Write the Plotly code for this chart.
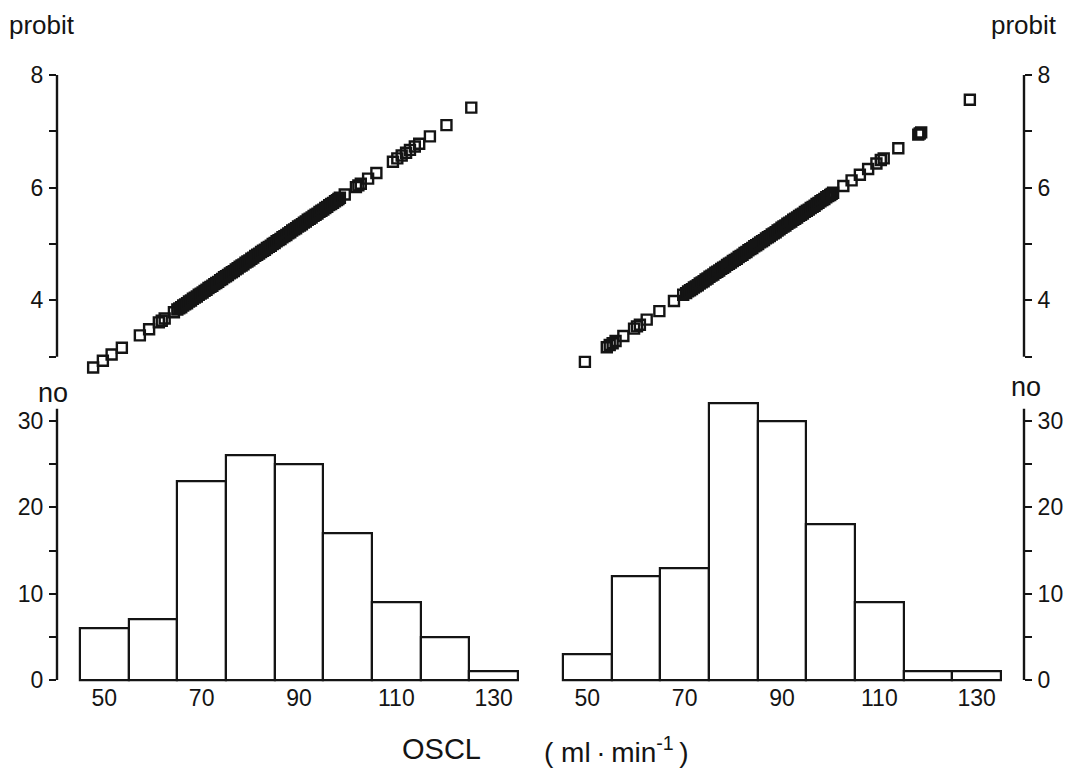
import plotly.graph_objects as go

# ---------------- data ----------------
bin_centers = [50, 60, 70, 80, 90, 100, 110, 120, 130]
counts_left = [6, 7, 23, 26, 25, 17, 9, 5, 1]
counts_right = [3, 12, 13, 32, 30, 18, 9, 1, 1]

oscl_left = [47.7, 49.7, 51.5, 53.6, 57.3, 59.2, 61.2, 61.8, 62.4, 64.3,
             65.0, 65.4, 65.8, 66.2, 66.6, 67.0, 67.4, 67.8, 68.2, 68.6,
             69.0, 69.4, 69.8, 70.2, 70.6, 71.0, 71.4, 71.8, 72.2, 72.6,
             73.0, 73.4, 73.8, 74.2, 74.6, 75.0, 75.4, 75.8, 76.2, 76.6,
             77.0, 77.4, 77.8, 78.2, 78.6, 79.0, 79.4, 79.8, 80.2, 80.6,
             81.0, 81.4, 81.8, 82.2, 82.6, 83.0, 83.4, 83.8, 84.2, 84.6,
             85.0, 85.4, 85.8, 86.2, 86.6, 87.0, 87.4, 87.8, 88.2, 88.6,
             89.0, 89.4, 89.8, 90.2, 90.6, 91.0, 91.4, 91.8, 92.2, 92.6,
             93.0, 93.4, 93.8, 94.2, 94.6, 95.0, 95.4, 95.8, 96.2, 96.6,
             97.0, 97.4, 97.8, 98.1, 98.4,
             99.4, 101.7, 102.2, 102.7, 104.2, 105.9, 109.3, 110.2,
             111.1, 112.0, 112.8, 113.8, 114.7, 116.9, 120.3, 125.4]
probit_left = [2.81, 2.93, 3.04, 3.16, 3.38, 3.49, 3.61, 3.64, 3.68, 3.79,
               3.84, 3.86, 3.88, 3.91, 3.93, 3.95, 3.98, 4.00, 4.03, 4.05,
               4.07, 4.10, 4.12, 4.14, 4.17, 4.19, 4.22, 4.24, 4.26, 4.29,
               4.31, 4.33, 4.36, 4.38, 4.41, 4.43, 4.45, 4.48, 4.50, 4.52,
               4.55, 4.57, 4.60, 4.62, 4.64, 4.67, 4.69, 4.71, 4.74, 4.76,
               4.79, 4.81, 4.83, 4.86, 4.88, 4.90, 4.93, 4.95, 4.97, 5.00,
               5.02, 5.05, 5.07, 5.09, 5.12, 5.14, 5.16, 5.19, 5.21, 5.24,
               5.26, 5.28, 5.31, 5.33, 5.35, 5.38, 5.40, 5.43, 5.45, 5.47,
               5.50, 5.52, 5.54, 5.57, 5.59, 5.61, 5.64, 5.66, 5.69, 5.71,
               5.73, 5.76, 5.78, 5.80, 5.82,
               5.88, 6.01, 6.04, 6.07, 6.16, 6.26, 6.46, 6.52,
               6.57, 6.62, 6.67, 6.73, 6.78, 6.91, 7.11, 7.42]

oscl_right = [49.5, 54.0, 54.6, 55.2, 55.8, 57.4, 59.6, 60.2, 60.8, 62.2,
              64.8, 67.8, 69.7,
              70.3, 70.7, 71.1, 71.5, 71.9, 72.3, 72.7, 73.1, 73.5, 73.9,
              74.3, 74.7, 75.1, 75.5, 75.9, 76.3, 76.7, 77.1, 77.5, 77.9,
              78.3, 78.7, 79.1, 79.5, 79.9, 80.3, 80.7, 81.1, 81.5, 81.9,
              82.3, 82.7, 83.1, 83.5, 83.9, 84.3, 84.7, 85.1, 85.5, 85.9,
              86.3, 86.7, 87.1, 87.5, 87.9, 88.3, 88.7, 89.1, 89.5, 89.9,
              90.3, 90.7, 91.1, 91.5, 91.9, 92.3, 92.7, 93.1, 93.5, 93.9,
              94.3, 94.7, 95.1, 95.5, 95.9, 96.3, 96.7, 97.1, 97.5, 97.9,
              98.3, 98.7, 99.1, 99.5, 99.9, 100.2, 100.5,
              102.6, 104.3, 106.0, 107.7, 109.4, 110.3, 110.9, 113.9,
              118.0, 118.3, 118.6, 128.6]
probit_right = [2.91, 3.17, 3.21, 3.24, 3.28, 3.37, 3.50, 3.54, 3.57, 3.66,
                3.81, 3.99, 4.10,
                4.13, 4.16, 4.18, 4.20, 4.23, 4.25, 4.27, 4.30, 4.32, 4.34,
                4.37, 4.39, 4.42, 4.44, 4.46, 4.49, 4.51, 4.53, 4.56, 4.58,
                4.60, 4.63, 4.65, 4.67, 4.70, 4.72, 4.74, 4.77, 4.79, 4.81,
                4.84, 4.86, 4.89, 4.91, 4.93, 4.96, 4.98, 5.00, 5.03, 5.05,
                5.07, 5.10, 5.12, 5.14, 5.17, 5.19, 5.21, 5.24, 5.26, 5.29,
                5.31, 5.33, 5.36, 5.38, 5.40, 5.43, 5.45, 5.47, 5.50, 5.52,
                5.54, 5.57, 5.59, 5.61, 5.64, 5.66, 5.68, 5.71, 5.73, 5.76,
                5.78, 5.80, 5.83, 5.85, 5.87, 5.89, 5.91,
                6.03, 6.13, 6.23, 6.33, 6.43, 6.49, 6.52, 6.70,
                6.94, 6.96, 6.98, 7.56]

x_ticks = [50, 70, 90, 110, 130]
probit_ticks = [4, 6, 8]
probit_minor = [3, 5, 7]
count_ticks = [0, 10, 20, 30]
count_minor = [5, 15, 25]

# ---------------- layout helpers (pixel placement) ----------------
W, H = 1067, 768
INK = "#141414"
FONT = "Liberation Sans, Arial, Helvetica, sans-serif"


def lin(v1, p1, v2, p2, p):
    return v1 + (p - p1) * (v2 - v1) / (p2 - p1)


# x mapping (data -> px)
AXL, AXR = 57, 1024
xl_range = [lin(45, 80, 135, 518, AXL), lin(45, 80, 135, 518, 522)]
xr_range = [lin(45, 563, 135, 1001, 555), lin(45, 563, 135, 1001, AXR)]
xl_dom = [AXL / W, 522 / W]
xr_dom = [555 / W, AXR / W]

# y mapping
top_px = (60, 382)
bot_px = (402, 692)
yt_range = [lin(8, 76, 3, 362, top_px[1]), lin(8, 76, 3, 362, top_px[0])]
yb_range = [lin(0, 690, 30, 427, bot_px[1]), lin(0, 690, 30, 427, bot_px[0])]
yt_dom = [1 - top_px[1] / H, 1 - top_px[0] / H]
yb_dom = [1 - bot_px[1] / H, 1 - bot_px[0] / H]

fig = go.Figure()

marker_sq = dict(symbol="square-open", size=10, color=INK, line=dict(width=2.4, color=INK))
fig.add_trace(go.Scatter(x=oscl_left, y=probit_left, mode="markers", marker=marker_sq,
                         xaxis="x", yaxis="y", showlegend=False, hoverinfo="x+y"))
fig.add_trace(go.Scatter(x=oscl_right, y=probit_right, mode="markers", marker=marker_sq,
                         xaxis="x2", yaxis="y2", showlegend=False, hoverinfo="x+y"))

bar_style = dict(color="white", line=dict(color=INK, width=2.2))
fig.add_trace(go.Bar(x=bin_centers, y=counts_left, width=10, marker=bar_style,
                     xaxis="x3", yaxis="y3", showlegend=False))
fig.add_trace(go.Bar(x=bin_centers, y=counts_right, width=10, marker=bar_style,
                     xaxis="x4", yaxis="y4", showlegend=False))

tickfont = dict(family=FONT, size=23, color=INK)
hidden_x = dict(showticklabels=False, showline=False, showgrid=False, zeroline=False, ticks="")
shown_x = dict(tickvals=x_ticks, ticks="", showline=False, showgrid=False, zeroline=False,
               tickfont=tickfont, ticklabelstandoff=0)
common_y = dict(ticks="outside", ticklen=7, tickwidth=1.8, tickcolor=INK, showline=False,
                showgrid=False, zeroline=False, tickfont=tickfont, ticklabelstandoff=1)


def minor(vals):
    return dict(tickvals=vals, ticks="outside", ticklen=7, tickwidth=1.8, tickcolor=INK,
                showgrid=False)


fig.update_layout(
    width=W, height=H,
    margin=dict(l=0, r=0, t=0, b=0),
    paper_bgcolor="white", plot_bgcolor="white",
    bargap=0,
    font=dict(family=FONT, color=INK),
    xaxis=dict(domain=xl_dom, range=xl_range, anchor="y", **hidden_x),
    xaxis2=dict(domain=xr_dom, range=xr_range, anchor="y2", **hidden_x),
    xaxis3=dict(domain=xl_dom, range=xl_range, anchor="y3", **shown_x),
    xaxis4=dict(domain=xr_dom, range=xr_range, anchor="y4", **shown_x),
    yaxis=dict(domain=yt_dom, range=yt_range, anchor="x", side="left",
               tickvals=probit_ticks, minor=minor(probit_minor), **common_y),
    yaxis2=dict(domain=yt_dom, range=yt_range, anchor="x2", side="right",
                tickvals=probit_ticks, minor=minor(probit_minor), **common_y),
    yaxis3=dict(domain=yb_dom, range=yb_range, anchor="x3", side="left",
                tickvals=count_ticks, minor=minor(count_minor), **common_y),
    yaxis4=dict(domain=yb_dom, range=yb_range, anchor="x4", side="right",
                tickvals=count_ticks, minor=minor(count_minor), **common_y),
)

spine = dict(color=INK, width=2.4)
fig.add_shape(type="line", xref="x domain", yref="y", x0=0, x1=0, y0=3, y1=8, line=spine)
fig.add_shape(type="line", xref="x2 domain", yref="y2", x0=1, x1=1, y0=3, y1=8, line=spine)
fig.add_shape(type="line", xref="x3 domain", yref="y3", x0=0, x1=0, y0=0, y1=31.4, line=spine)
fig.add_shape(type="line", xref="x4 domain", yref="y4", x0=1, x1=1, y0=0, y1=31.4, line=spine)


def label(text, px, py, size):
    fig.add_annotation(text=text, x=px / W, y=1 - py / H, xref="paper", yref="paper",
                       showarrow=False, xanchor="center", yanchor="middle",
                       font=dict(family=FONT, size=size, color=INK))


label("probit", 42, 25, 26)
label("probit", 1024, 25, 26)
label("no", 53, 399, 27)
label("no", 1026, 393, 27)
label("OSCL", 441, 760, 29)
label("( ml\u2009·\u2009min<sup>-1</sup>\u2009)", 616, 761, 28)

fig.write_html("out.html", config={"displayModeBar": False},
               post_script="document.body.style.margin='0px';document.body.style.overflow='hidden';")
